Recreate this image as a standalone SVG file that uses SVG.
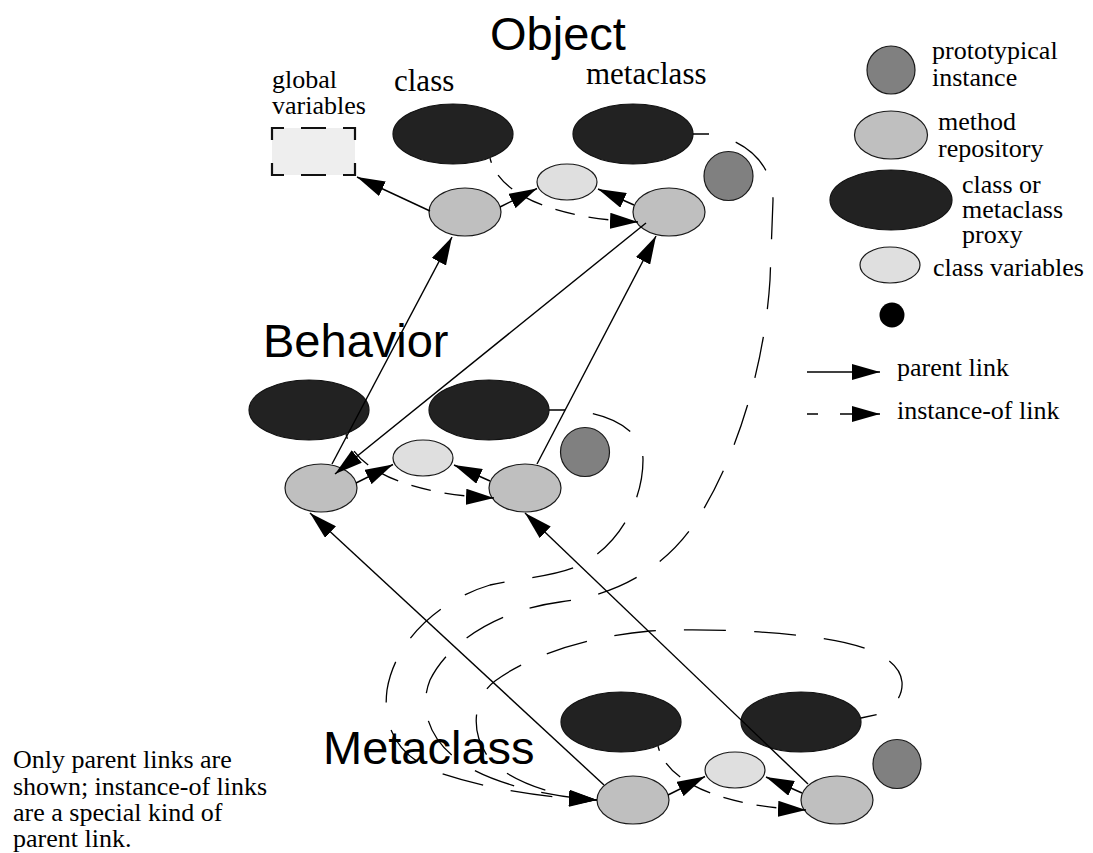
<svg xmlns="http://www.w3.org/2000/svg" width="1093" height="853" viewBox="0 0 1093 853">
<style>
.bg{fill:#ffffff}
.proxy{fill:#222222;stroke:#111111;stroke-width:1.2}
.meth{fill:#bfbfbf;stroke:#1a1a1a;stroke-width:1.2}
.cvar{fill:#dfdfdf;stroke:#1a1a1a;stroke-width:1.2}
.proto{fill:#808080;stroke:#1a1a1a;stroke-width:1.2}
.dot{fill:#000000}
.gbox{fill:#eeeeee}
.gdash{fill:none;stroke:#111111;stroke-width:2.2}
.parent{fill:none;stroke:#000000;stroke-width:1.4}
.inst{fill:none;stroke:#000000;stroke-width:1.3;stroke-dasharray:20 14}
.big{fill:none;stroke:#000000;stroke-width:1.3;stroke-dasharray:42 28;stroke-dashoffset:26}
.head{font-family:"Liberation Sans",Arial,sans-serif;font-size:47px;fill:#000}
.lbl{font-family:"Liberation Serif","Times New Roman",serif;font-size:26px;fill:#000}
.lbl31{font-family:"Liberation Serif","Times New Roman",serif;font-size:31px;fill:#000}
</style>
<defs>
<marker id="arrow" viewBox="0 0 28 16" refX="28" refY="8" markerWidth="28" markerHeight="16" markerUnits="userSpaceOnUse" orient="auto">
<path d="M0,0 L28,8 L0,16 z" fill="#000"/>
</marker>
</defs>
<rect class="bg" x="0" y="0" width="1093" height="853"/>

<!-- level titles and labels -->
<text class="head" x="490" y="50">Object</text>
<text class="head" x="263" y="357">Behavior</text>
<text class="head" x="323" y="764">Metaclass</text>
<text class="lbl31" x="394" y="91">class</text>
<text class="lbl31" x="586" y="84">metaclass</text>
<text class="lbl" x="272" y="88">global</text>
<text class="lbl" x="272" y="114">variables</text>

<!-- Object level -->
<g id="global-variables">
<rect class="gbox" x="272" y="128" width="83" height="47"/>
<path class="gdash" d="M272,140 V128 H284 M301,128 H326 M343,128 H355 V140 M355,163 V175 H343 M326,175 H301 M284,175 H272 V163"/>
</g>
<g id="object-class"><ellipse class="proxy" cx="453" cy="134" rx="60" ry="30"/></g>
<g id="object-metaclass"><ellipse class="proxy" cx="633" cy="134" rx="60" ry="30"/></g>
<g id="object-class-variables"><ellipse class="cvar" cx="567" cy="182" rx="30" ry="18"/></g>
<g id="object-class-methods"><ellipse class="meth" cx="465" cy="212" rx="36" ry="24"/></g>
<g id="object-metaclass-methods"><ellipse class="meth" cx="669" cy="212" rx="36" ry="24"/></g>
<g id="object-prototype"><circle class="proto" cx="728.5" cy="176" r="24.5"/></g>

<!-- Behavior level -->
<g id="behavior-class"><ellipse class="proxy" cx="309" cy="410" rx="60" ry="30"/></g>
<g id="behavior-metaclass"><ellipse class="proxy" cx="489" cy="410" rx="60" ry="30"/></g>
<g id="behavior-class-variables"><ellipse class="cvar" cx="423" cy="458" rx="30" ry="18"/></g>
<g id="behavior-class-methods"><ellipse class="meth" cx="321" cy="488" rx="36" ry="24"/></g>
<g id="behavior-metaclass-methods"><ellipse class="meth" cx="525" cy="488" rx="36" ry="24"/></g>
<g id="behavior-prototype"><circle class="proto" cx="585" cy="452" r="24.5"/></g>

<!-- Metaclass level -->
<g id="metaclass-class"><ellipse class="proxy" cx="621" cy="722" rx="60" ry="30"/></g>
<g id="metaclass-metaclass"><ellipse class="proxy" cx="801" cy="722" rx="60" ry="30"/></g>
<g id="metaclass-class-variables"><ellipse class="cvar" cx="735" cy="770" rx="30" ry="18"/></g>
<g id="metaclass-class-methods"><ellipse class="meth" cx="633" cy="800" rx="36" ry="24"/></g>
<g id="metaclass-metaclass-methods"><ellipse class="meth" cx="837" cy="800" rx="36" ry="24"/></g>
<g id="metaclass-prototype"><ellipse class="proto" cx="897" cy="764" rx="24" ry="24.5"/></g>

<!-- connectors -->
<g id="connectors">
<!-- Object level -->
<path class="parent" d="M430,211 L357,177" marker-end="url(#arrow)"/>
<path class="parent" d="M500,207 L537,188.5" marker-end="url(#arrow)"/>
<path class="parent" d="M634,205 L598,189" marker-end="url(#arrow)"/>
<path class="inst" d="M490,158 C498,192 548,218 638,222" stroke-dashoffset="15" marker-end="url(#arrow)"/>
<!-- Behavior level -->
<path class="parent" d="M356,483 L393,464.5" marker-end="url(#arrow)"/>
<path class="parent" d="M490,481 L454,465" marker-end="url(#arrow)"/>
<path class="inst" d="M346,434 C354,468 404,494 494,498" stroke-dashoffset="15" marker-end="url(#arrow)"/>
<!-- Metaclass level -->
<path class="parent" d="M668,795 L705,776.5" marker-end="url(#arrow)"/>
<path class="parent" d="M802,793 L766,777" marker-end="url(#arrow)"/>
<path class="inst" d="M658,746 C666,780 716,806 806,810" stroke-dashoffset="15" marker-end="url(#arrow)"/>
<!-- parent links between levels -->
<path class="parent" d="M332,464 L452,237" marker-end="url(#arrow)"/>
<path class="parent" d="M646,223 L335,474" marker-end="url(#arrow)"/>
<path class="parent" d="M537,464 L656,236" marker-end="url(#arrow)"/>
<path class="parent" d="M604,785 L310,513" marker-end="url(#arrow)"/>
<path class="parent" d="M808,784 L525,513" marker-end="url(#arrow)"/>
<!-- long instance-of curves to Metaclass class methods -->
<path class="big" d="M693,134 L709,134 C740,138 773,160 773,200 L770,280 C765,360 740,450 700,515 C670,565 620,595 560,602 C500,610 450,640 430,680 C418,710 430,745 470,768 C500,785 550,797 597,800" marker-end="url(#arrow)"/>
<path class="big" d="M549,410 L565,410 C610,412 643,430 643,460 C643,500 620,545 580,565 C555,577 520,578 490,585 C440,600 395,640 387,690 C382,730 400,758 440,773 C490,790 550,798 597,800" marker-end="url(#arrow)"/>
<path class="big" d="M861,718 L879,714 C895,708 903,695 902,682 C900,660 870,645 820,638 C770,631 700,628 650,631 C590,636 530,655 495,681 C470,700 470,740 495,765 C520,785 560,797 597,800" marker-end="url(#arrow)"/>
</g>

<!-- legend -->
<g id="legend">
<g id="legend-prototype"><circle class="proto" cx="891" cy="70" r="24"/>
<text class="lbl" x="932" y="59">prototypical</text><text class="lbl" x="932" y="86">instance</text></g>
<g id="legend-methods"><ellipse class="meth" cx="891" cy="135" rx="36.5" ry="24"/>
<text class="lbl" x="938" y="130">method</text><text class="lbl" x="938" y="157">repository</text></g>
<g id="legend-proxy"><ellipse class="proxy" cx="891" cy="200" rx="61" ry="30"/>
<text class="lbl" x="962" y="193">class or</text><text class="lbl" x="962" y="218">metaclass</text><text class="lbl" x="962" y="243">proxy</text></g>
<g id="legend-classvars"><ellipse class="cvar" cx="890" cy="265" rx="30" ry="18"/>
<text class="lbl" x="933" y="276">class variables</text></g>
<g id="legend-dot"><circle class="dot" cx="892" cy="315" r="12.5"/></g>
<g id="legend-parent"><path class="parent" d="M807,372 L880,372" marker-end="url(#arrow)"/>
<text class="lbl" x="897" y="376">parent link</text></g>
<g id="legend-instance"><path class="parent" d="M807,414 L880,414" stroke-dasharray="11 22 100" marker-end="url(#arrow)"/>
<text class="lbl" x="897" y="419">instance-of link</text></g>
</g>

<g id="note">
<text class="lbl" x="13" y="768">Only parent links are</text>
<text class="lbl" x="13" y="795">shown; instance-of links</text>
<text class="lbl" x="13" y="821">are a special kind of</text>
<text class="lbl" x="13" y="847">parent link.</text>
</g>
</svg>
